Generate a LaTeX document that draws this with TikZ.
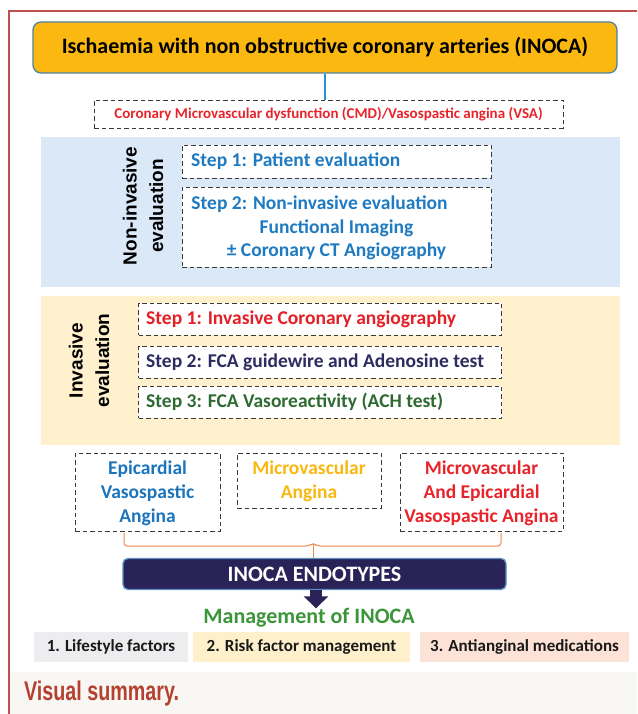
\documentclass[tikz,border=0pt]{standalone}
\usepackage{fontspec}
\setmainfont{Carlito}
\newfontfamily\arialfont{Liberation Sans}
\usetikzlibrary{arrows.meta}
\definecolor{redline}{HTML}{C0504D}
\definecolor{titlefill}{HTML}{FBB810}
\definecolor{titleborder}{HTML}{4F81A0}
\definecolor{bluelink}{HTML}{2D8FD5}
\definecolor{cmdred}{HTML}{E8232A}
\definecolor{bluepanel}{HTML}{DAE8F7}
\definecolor{stepblue}{HTML}{1F7BC1}
\definecolor{yellowpanel}{HTML}{FFF0CE}
\definecolor{stepred}{HTML}{E41F26}
\definecolor{stepnavy}{HTML}{2E2B5F}
\definecolor{stepgreen}{HTML}{2F6A31}
\definecolor{epiblue}{HTML}{1C75BC}
\definecolor{amber}{HTML}{F8B80F}
\definecolor{endofill}{HTML}{2A2357}
\definecolor{endoborder}{HTML}{5B8FBF}
\definecolor{mgmtgreen}{HTML}{3B9639}
\definecolor{boxone}{HTML}{EDEDEF}
\definecolor{boxtwo}{HTML}{FFF0CC}
\definecolor{boxthree}{HTML}{FDE2D7}
\definecolor{capband}{HTML}{F9F7F3}
\definecolor{captext}{HTML}{B5402F}
\definecolor{braceorange}{HTML}{F08A4B}
\definecolor{dashgray}{HTML}{3A3A3A}
\tikzset{
  dashbox/.style={draw=dashgray, line width=0.9pt, dash pattern=on 4.5pt off 3pt, fill=white, inner sep=0pt},
  steptext/.style={font=\fontsize{19.5}{23.5}\selectfont\bfseries, inner sep=0pt},
  endotext/.style={font=\fontsize{19.5}{24}\selectfont\bfseries, align=center},
  sidelabel/.style={font=\arialfont\fontsize{19}{26.5}\selectfont\bfseries, rotate=90, align=center, inner sep=0pt},
  panel/.style={inner sep=0pt, draw=none},
  mgmtbox/.style={inner sep=0pt, font=\fontsize{17}{20}\selectfont\bfseries, text=black!90},
}
\begin{document}
\begin{tikzpicture}[x=1pt, y=-1pt]
\useasboundingbox (0,0) rectangle (637,714);
\fill[white] (0,0) rectangle (637,714);
% caption band
\fill[capband] (9,672) rectangle (637,714);
\node[anchor=west, inner sep=0pt, text=captext] (cap) at (24,694)
  {\scalebox{0.73}[1]{\arialfont\fontsize{27}{30}\selectfont\bfseries Visual summary.}};
% frame lines
\draw[redline, line width=1.3pt] (637,11) -- (9,11) -- (9,714);

% title
\node[draw=titleborder, line width=1.3pt, fill=titlefill, rounded corners=8pt,
      minimum width=584pt, minimum height=51pt, inner sep=0pt,
      font=\fontsize{22}{26}\selectfont\bfseries] (title) at (325,47.5)
  {Ischaemia with non obstructive coronary arteries (INOCA)};

% CMD box
\node[dashbox, minimum width=469pt, minimum height=28pt, text=cmdred,
      font=\fontsize{15}{18}\selectfont\bfseries] (cmd) at (328.5,114)
  {Coronary Microvascular dysfunction (CMD)/Vasospastic angina (VSA)};
\draw[bluelink, line width=1.5pt] (title.south -| 325,0) -- (cmd.north -| 325,0);

% non-invasive panel
\node[panel, fill=bluepanel, minimum width=579pt, minimum height=150pt] (nipanel) at (330.5,212) {};
\node[sidelabel] (nilabel) at (143,206) {Non-invasive\\evaluation};
\node[dashbox, minimum width=309pt, minimum height=33pt] (ni1) at (336.5,161.5) {};
\node[steptext, text=stepblue, anchor=west] (ni1t) at (191,161.5) {Step 1: Patient evaluation};
\node[dashbox, minimum width=309pt, minimum height=80pt] (ni2) at (336.5,227) {};
\node[steptext, text=stepblue, align=center] (ni2t) at (336.5,228)
  {Step 2: Non-invasive evaluation\hspace*{34pt}\\Functional Imaging\\\textpm{} Coronary CT Angiography};

% invasive panel
\node[panel, fill=yellowpanel, minimum width=579pt, minimum height=149pt] (invpanel) at (330.5,370.5) {};
\node[sidelabel] (invlabel) at (89,360.5) {Invasive\\evaluation};
\node[dashbox, minimum width=363pt, minimum height=32pt] (inv1) at (320,319) {};
\node[steptext, text=stepred, anchor=west] (inv1t) at (146,319) {Step 1: Invasive Coronary angiography};
\node[dashbox, minimum width=363pt, minimum height=32pt] (inv2) at (320,362) {};
\node[steptext, text=stepnavy, anchor=west] (inv2t) at (146,362) {Step 2: FCA guidewire and Adenosine test};
\node[dashbox, minimum width=363pt, minimum height=32pt] (inv3) at (320,402) {};
\node[steptext, text=stepgreen, anchor=west] (inv3t) at (146,402) {Step 3: FCA Vasoreactivity (ACH test)};

% endotypes
\node[dashbox, minimum width=145pt, minimum height=78pt] (epi) at (147.5,492) {};
\node[endotext, text=epiblue] (epit) at (147.5,493) {Epicardial\\Vasospastic\\Angina};
\node[dashbox, minimum width=144pt, minimum height=55pt] (micro) at (309,480.5) {};
\node[endotext, text=amber] (microt) at (309,481) {Microvascular\\Angina};
\node[dashbox, minimum width=163pt, minimum height=78pt] (both) at (481.5,492) {};
\node[endotext, text=cmdred] (botht) at (481.5,493) {Microvascular\\And Epicardial\\Vasospastic Angina};

% INOCA endotypes box
\node[draw=endoborder, line width=1.3pt, fill=endofill, rounded corners=5pt,
      minimum width=383pt, minimum height=31pt, inner sep=0pt, text=white,
      font=\fontsize{22}{26}\selectfont\bfseries] (endo) at (314.5,574) {INOCA ENDOTYPES};

% brace
\coordinate (bl) at (124,533);
\coordinate (br) at (501,533);
\coordinate (bm) at (313,543);
\draw[braceorange, line width=1pt, rounded corners=3pt]
  (bl) -- (124,546) -- (309,546) -- (bm) -- (317,546) -- (501,546) -- (br);
\draw[braceorange, line width=1pt] (bm) -- (bm |- endo.north);

% management
\node[inner sep=0pt, text=mgmtgreen, font=\fontsize{22}{26}\selectfont\bfseries] (mgmt) at (309,618)
  {Management of INOCA};
\draw[endofill, line width=12pt, -{Triangle[width=24pt, length=12pt]}]
  (endo.south -| 316,0) -- (mgmt.north -| 316,0);

% bottom boxes
\node[mgmtbox, fill=boxone, minimum width=154pt, minimum height=30pt] (m1) at (111,647) {1. Lifestyle factors};
\node[mgmtbox, fill=boxtwo, minimum width=217pt, minimum height=30pt] (m2) at (301.5,647) {2. Risk factor management};
\node[mgmtbox, fill=boxthree, minimum width=209pt, minimum height=30pt] (m3) at (524.5,647) {3. Antianginal medications};
\end{tikzpicture}
\end{document}
